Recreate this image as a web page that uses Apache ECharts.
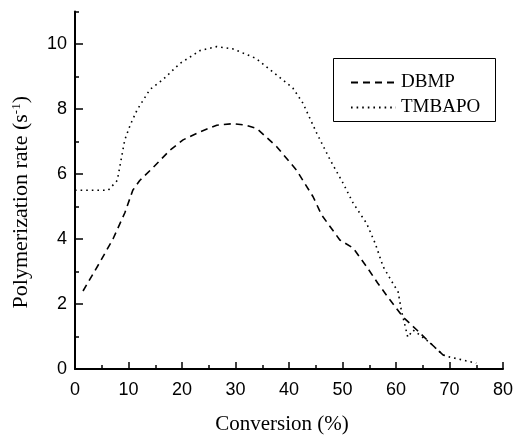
<!DOCTYPE html>
<html>
<head>
<meta charset="utf-8">
<script src="https://cdn.jsdelivr.net/npm/echarts@6/dist/echarts.min.js"></script>
<style>
  html, body { margin: 0; padding: 0; background: #fff; }
  #chart { width: 517px; height: 435px; }
</style>
</head>
<body>
<div id="chart"></div>
<script>
"use strict";

// values
var dbmpX = [1.5, 4.7, 7.1, 9.3, 10.8, 12.1, 14.6, 17.8, 20.2, 23.4, 26.5, 29.5, 32, 34, 37.7, 41.4, 44.5, 46.1, 49.5, 52, 54.5, 56.6, 58.9, 61.3, 63.9, 66.4, 68.8, 70]
var dbmpY = [2.4, 3.3, 4.0, 4.8, 5.5, 5.8, 6.2, 6.74, 7.05, 7.3, 7.5, 7.55, 7.5, 7.4, 6.84, 6.12, 5.3, 4.74, 3.97, 3.72, 3.15, 2.64, 2.12, 1.6, 1.2, 0.8, 0.43, 0.37]

var tmbX = [0, 6.2, 7.9, 8.8, 9.3, 10.3, 11.6, 14, 16.4, 19.6, 23.4, 26.5, 29.5, 33.8, 40.7, 42.6, 45.2, 47.7, 50.1, 52, 54.5, 56.1, 57.6, 59.4, 60.4, 61, 61.3, 62.2, 63.2, 66.4, 68.8, 70, 75]
var tmbY = [5.5, 5.5, 5.8, 6.6, 7.05, 7.5, 7.97, 8.6, 8.9, 9.4, 9.8, 9.92, 9.85, 9.56, 8.65, 8.18, 7.25, 6.43, 5.72, 5.1, 4.48, 3.87, 3.15, 2.64, 2.37, 1.8, 1.6, 0.98, 1.2, 0.8, 0.43, 0.37, 0.18]

var yMajor = [0, 2, 4, 6, 8, 10]
var yMinor = [1, 3, 5, 7, 9, 11]

function pairs(xs, ys) {
  return xs.map(function (x, i) { return [x, ys[i]] })
}

var chart = echarts.init(document.getElementById('chart'))

var serif = '"Liberation Serif", "DejaVu Serif", serif'
var sans = '"Liberation Sans", Arial, sans-serif'

var option = {
  backgroundColor: '#ffffff',
  animation: false,
  grid: {
    left: 75,
    right: 14,
    top: 11.5,
    bottom: 66,
    containLabel: false,
    outerBoundsMode: 'none'
  },
  legend: {
    orient: 'vertical',
    left: 350,
    top: 73,
    padding: 0,
    itemWidth: 45,
    itemHeight: 14,
    itemGap: 6,
    itemStyle: { opacity: 0 },
    textStyle: { fontFamily: serif, fontSize: 19, color: '#000' },
    data: ['DBMP', 'TMBAPO']
  },
  graphic: [{
    type: 'rect',
    shape: { x: 333.5, y: 58.5, width: 162, height: 63 },
    style: { fill: 'none', stroke: '#000', lineWidth: 1 },
    z: 10
  }],
  xAxis: {
    type: 'value',
    min: 0,
    max: 80,
    interval: 10,
    name: 'Conversion (%)',
    nameLocation: 'center',
    nameGap: 45,
    nameTextStyle: { fontFamily: serif, fontSize: 21, color: '#000', padding: [0, 14, 0, 0] },
    axisLine: { lineStyle: { color: '#000', width: 2 } },
    axisTick: { inside: true, length: 7, lineStyle: { color: '#000', width: 1.5 } },
    minorTick: { show: true, splitNumber: 2, length: 4, lineStyle: { color: '#000', width: 1.5 } },
    axisLabel: { fontFamily: sans, fontSize: 18, color: '#000', margin: 12 },
    splitLine: { show: false }
  },
  yAxis: [{
    type: 'value',
    min: 0,
    max: 11,
    interval: 2,
    name: 'Polymerization rate (s{sup|-1})',
    nameLocation: 'center',
    nameGap: 42,
    nameTextStyle: {
      fontFamily: serif, fontSize: 22, color: '#000', padding: [0, 24, 0, 0],
      rich: { sup: { fontFamily: serif, fontSize: 13, verticalAlign: 'top', padding: [0, 0, 10, 0] } }
    },
    axisLine: { lineStyle: { color: '#000', width: 2 } },
    axisTick: { inside: true, length: 8, customValues: yMajor, lineStyle: { color: '#000', width: 1.5 } },
    axisLabel: { fontFamily: sans, fontSize: 18, color: '#000', margin: 8, customValues: yMajor },
    splitLine: { show: false }
  }, {
    type: 'value',
    min: 0,
    max: 11,
    position: 'left',
    offset: 0,
    axisLine: { show: false },
    axisTick: { inside: true, length: 4, customValues: yMinor, lineStyle: { color: '#000', width: 1.5 } },
    axisLabel: { show: false },
    splitLine: { show: false }
  }],
  series: [{
    name: 'DBMP',
    type: 'line',
    symbol: 'none',
    data: pairs(dbmpX, dbmpY),
    lineStyle: { color: '#000', width: 1.6, type: [7, 5] },
    itemStyle: { color: '#000' }
  }, {
    name: 'TMBAPO',
    type: 'line',
    symbol: 'none',
    data: pairs(tmbX, tmbY),
    lineStyle: { color: '#000', width: 1.6, type: [1.6, 4] },
    itemStyle: { color: '#000' }
  }]
}

chart.setOption(option)
</script>
</body>
</html>
